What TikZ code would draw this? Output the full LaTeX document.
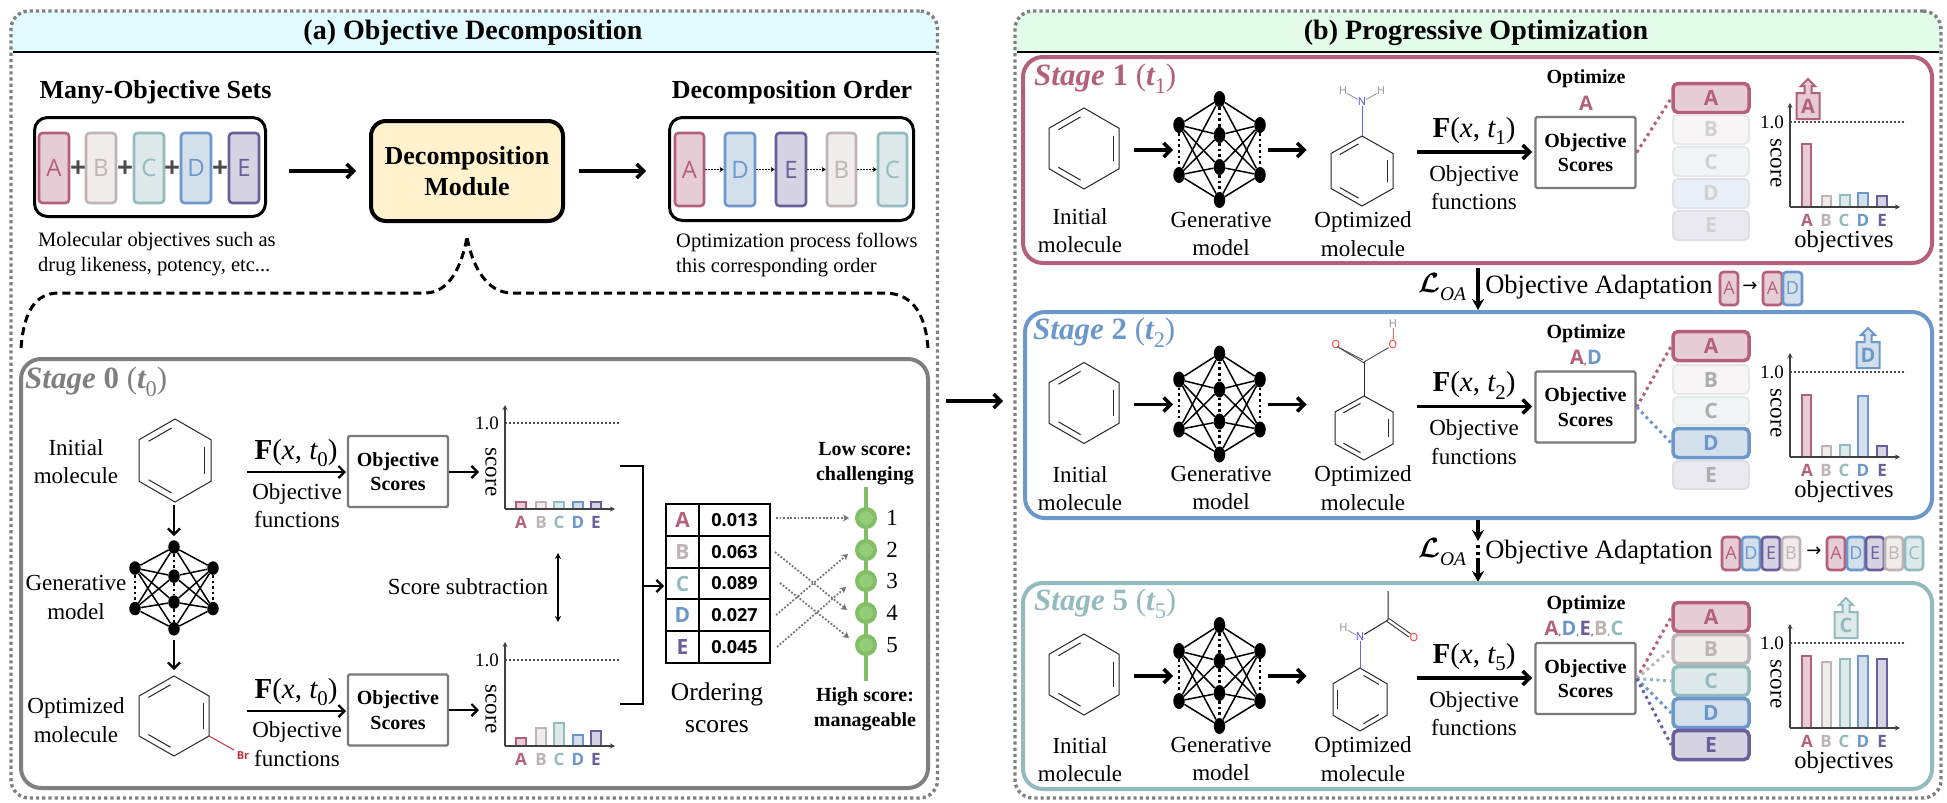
\documentclass[tikz,border=0pt]{standalone}
\usepackage{graphicx}
\usepackage{fontspec}
\setmainfont{Liberation Serif}
\newfontfamily\ltr{Open Sans}
\newfontfamily\djs{DejaVu Sans}
\usetikzlibrary{arrows.meta,calc,shapes.geometric}
\definecolor{colA}{HTML}{B5607A}\definecolor{fillA}{HTML}{E6CDD5}
\definecolor{colB}{HTML}{BFB3B5}\definecolor{fillB}{HTML}{F1ECEC}
\definecolor{colC}{HTML}{93BABD}\definecolor{fillC}{HTML}{DDE9EA}
\definecolor{colD}{HTML}{6C97CB}\definecolor{fillD}{HTML}{D4DFEC}
\definecolor{colE}{HTML}{6B5E9B}\definecolor{fillE}{HTML}{D6D3E3}
\definecolor{fadeA}{HTML}{F7F6F6}\definecolor{fadeB}{HTML}{F7F5F5}
\definecolor{fadeC}{HTML}{F1F5F5}\definecolor{fadeD}{HTML}{E9EFF7}
\definecolor{fadeE}{HTML}{E9E9EF}
\definecolor{pangray}{HTML}{808080}
\definecolor{stagegray}{HTML}{7F7F7F}
\definecolor{boxgray}{HTML}{7A7A7A}
\definecolor{gring}{HTML}{82BE68}
\definecolor{gfill}{HTML}{95CC7A}
\definecolor{brred}{HTML}{C0303A}
\definecolor{decoy}{HTML}{FFF2CC}
\definecolor{headA}{HTML}{E2FBFE}
\definecolor{headB}{HTML}{E3FCE9}
\newcommand{\fs}[2]{\fontsize{#1}{#2}\selectfont}
\newcommand{\subs}[1]{\raisebox{-.25em}{\scalebox{.72}{#1}}}
\newcommand{\loa}{\scalebox{1.12}{\boldmath$\mathcal{L}$}\raisebox{-.3em}{\scalebox{.72}{\itshape OA}}}
\tikzset{
 panel/.style={draw=pangray,line width=3.4pt,dash pattern=on 3.2pt off 3pt,rounded corners=18pt,inner sep=0,minimum width=#1},
 stagebox/.style={draw=#1,line width=4pt,rounded corners=20pt,inner sep=0},
 arr/.style={-{Straight Barb[length=6pt,width=12pt]},line width=2.2pt,black},
 harr/.style={-{Straight Barb[length=7pt,width=14pt]},line width=3.5pt,black},
 soa/.style={-{Stealth[length=11pt,width=12pt]},line width=3.5pt,black},
 soad/.style={line width=3.5pt,black,dash pattern=on 3pt off 3.5pt},
 dblarr/.style={{Stealth[length=6pt,width=6pt]}-{Stealth[length=6pt,width=6pt]},line width=2pt,black},
 axis/.style={-{Stealth[length=5pt,width=5pt]},line width=1.4pt,black!75},
 dashl/.style={line width=1.1pt,black!70,dash pattern=on 2pt off 2pt},
 dotarr/.style={-{Stealth[length=6pt,width=7pt]},line width=1.8pt,black!55,dash pattern=on 1.8pt off 1.8pt},
 tinyarr/.style={-{Stealth[length=4pt,width=5pt]},line width=1.3pt,black,dash pattern=on 1.5pt off 1.5pt},
 bond/.style={line width=1pt,black!85,line join=miter},
 nn/.style={ellipse,fill=black,inner sep=0,minimum width=11.5pt},
 nedge/.style={line width=1.5pt,black},
 ndots/.style={line width=2.6pt,black,dash pattern=on 2.6pt off 3pt},
 lab/.style={inner sep=0,align=center,font=\fs{23}{28.5}},
 lead/.style={inner sep=0,align=left,anchor=west,font=\fs{20.5}{25}},
 bld/.style={inner sep=0,align=center,font=\fs{#1}{25}\bfseries},
 fx/.style={inner sep=0,font=\fs{29}{30}},
 objbox/.style={draw=boxgray,line width=2.4pt,rounded corners=1.5pt,fill=white,inner sep=0,minimum width=100pt,minimum height=71pt,align=center,font=\fs{20}{24.5}\bfseries},
 slabel/.style={inner sep=0,anchor=west,font=\fs{31}{32}},
 atom/.style={inner sep=0,font=\fs{11}{11}\ltr},
}
% connector between two named coordinates
\newcommand{\conn}[4][arr]{\coordinate (#2-s) at (#3);\coordinate (#2-e) at (#4);\draw[#1] (#2-s) -- (#2-e);}
% coloured letter box
\newcommand{\lbox}[7]{\node[draw=col#6,fill=fill#6,line width=2.6pt,rounded corners=3.5pt,inner sep=0,minimum width={(#4-#2)*1pt},minimum height={(#5-#3)*1pt},font=\ltr\fs{#7}{#7},text=col#6] (#1) at ({(#2+#4)/2},{(#3+#5)/2}) {#6};}
% benzene ring
\newcommand{\myhex}[5]{%
 \coordinate (#1-c) at ({#2},{#3});
 \coordinate (#1-t) at ({#2},{#3-#4});
 \coordinate (#1-tr) at ({#2+#5},{#3-#4/2});
 \coordinate (#1-br) at ({#2+#5},{#3+#4/2});
 \coordinate (#1-b) at ({#2},{#3+#4});
 \coordinate (#1-bl) at ({#2-#5},{#3+#4/2});
 \coordinate (#1-tl) at ({#2-#5},{#3-#4/2});
 \draw[bond] (#1-t)--(#1-tr)--(#1-br)--(#1-b)--(#1-bl)--(#1-tl)--cycle;}
\newcommand{\mydbl}[3]{\draw[bond,shorten >=4pt,shorten <=4pt] ($(#1-c)!.83!(#1-#2)$) -- ($(#1-c)!.83!(#1-#3)$);}
\newcommand{\dblA}[1]{\mydbl{#1}{tl}{t}\mydbl{#1}{tr}{br}\mydbl{#1}{bl}{b}}
\newcommand{\dblB}[1]{\mydbl{#1}{t}{tr}\mydbl{#1}{tl}{bl}\mydbl{#1}{br}{b}}
% neural network
\newcommand{\mynet}[6]{%
 \foreach \nm/\yy in {c1/0,c2/36,c3/68,c4/101}{\node[nn,minimum height=#6pt] (#1-\nm) at ({#2},{#3+\yy*#5}) {};}
 \foreach \nm/\yy in {l1/26,l2/76}{\node[nn,minimum height=#6pt] (#1-\nm) at ({#2-#4},{#3+\yy*#5}) {};}
 \foreach \nm/\yy in {r1/26,r2/76}{\node[nn,minimum height=#6pt] (#1-\nm) at ({#2+#4},{#3+\yy*#5}) {};}
 \foreach \aa in {l1,l2,r1,r2}{\foreach \bb in {c1,c2,c3,c4}{\draw[nedge] (#1-\aa)--(#1-\bb);}}
 \draw[ndots] (#1-l1)--(#1-l2);\draw[ndots] (#1-r1)--(#1-r2);
 \draw[ndots] (#1-c1)--(#1-c2);\draw[ndots] (#1-c2)--(#1-c3);\draw[ndots] (#1-c3)--(#1-c4);}
% bars of a chart
\newcommand{\mybar}[5]{\draw[draw=col#5,fill=fill#5,line width=1.8pt] (#1,#2) rectangle (#3,#4);}
\newcommand{\letterc}[4]{\node[inner sep=0,font=\ltr\bfseries\fs{#4}{#4},text=col#3] at (#1,#2) {#3};}
% chart of panel a
\newcommand{\chartA}[7]{%
 \coordinate (#1-o) at (505,#2);\coordinate (#1-top) at (505,{#2-104});\coordinate (#1-x) at (615,#2);
 \coordinate (#1-d0) at (505,{#2-86});\coordinate (#1-d1) at (620,{#2-86});
 \draw[dashl] (#1-d0)--(#1-d1);
 \mybar{516}{#3}{526}{#2}{A}\mybar{536}{#4}{546}{#2}{B}\mybar{554}{#5}{564}{#2}{C}\mybar{573}{#6}{583}{#2}{D}\mybar{591}{#7}{601}{#2}{E}
 \draw[axis] (#1-o)--(#1-top);\draw[axis] (#1-o)--(#1-x);
 \node[inner sep=0,font=\fs{19}{19}] (#1-one) at (487,{#2-86}) {1.0};
 \node[inner sep=0,rotate=-90,font=\fs{23}{23}] (#1-score) at (491,{#2-37}) {score};
 \letterc{521}{{#2+13.5}}{A}{17}\letterc{541}{{#2+13.5}}{B}{17}\letterc{559}{{#2+13.5}}{C}{17}\letterc{578}{{#2+13.5}}{D}{17}\letterc{596}{{#2+13.5}}{E}{17}}
% chart of panel b
\newcommand{\chartB}[7]{%
 \coordinate (#1-o) at (1790,#2);\coordinate (#1-top) at (1790,{#2-104});\coordinate (#1-x) at (1900,#2);
 \coordinate (#1-d0) at (1790,{#2-85});\coordinate (#1-d1) at (1906,{#2-85});
 \draw[dashl] (#1-d0)--(#1-d1);
 \mybar{1802}{#3}{1811}{#2}{A}\mybar{1822}{#4}{1831}{#2}{B}\mybar{1840}{#5}{1850}{#2}{C}\mybar{1858}{#6}{1868}{#2}{D}\mybar{1877}{#7}{1887}{#2}{E}
 \draw[axis] (#1-o)--(#1-top);\draw[axis] (#1-o)--(#1-x);
 \node[inner sep=0,font=\fs{19}{19}] (#1-one) at (1772,{#2-85}) {1.0};
 \node[inner sep=0,rotate=-90,font=\fs{23}{23}] (#1-score) at (1776,{#2-44}) {score};
 \letterc{1807}{{#2+13.5}}{A}{17}\letterc{1826}{{#2+13.5}}{B}{17}\letterc{1844}{{#2+13.5}}{C}{17}\letterc{1863}{{#2+13.5}}{D}{17}\letterc{1882}{{#2+13.5}}{E}{17}
 \node[inner sep=0,font=\fs{24.5}{25}] (#1-objs) at (1844,{#2+34.5}) {objectives};}
% stack of objective bars
\newcommand{\stkOn}[4]{\node[draw=col#4,fill=fill#4,line width=3.5pt,rounded corners=5pt,inner sep=0,minimum width=76pt,minimum height={(#3-#2-3)*1pt},font=\ltr\bfseries\fs{21}{21},text=col#4] (#1) at (1711,{(#2+#3)/2}) {#4};}
\newcommand{\stkOff}[5]{\node[draw=fade#4!85!gray!85,fill=fade#4,line width=2pt,rounded corners=5pt,inner sep=0,minimum width=76pt,minimum height={(#3-#2-2)*1pt},font=\ltr\bfseries\fs{21}{21},text=#5] (#1) at (1711,{(#2+#3)/2}) {#4};}
% score up-arrow
\newcommand{\myup}[6]{\draw[draw=col#6,fill=fill#6,line width=2pt] (#2,#3) -- ({#2+7},{#3+7}) -- ({#2+3.5},{#3+7}) -- ({#2+3.5},#4) -- ({#2+11.5},#4) -- ({#2+11.5},#5) -- ({#2-11.5},#5) -- ({#2-11.5},#4) -- ({#2-3.5},#4) -- ({#2-3.5},{#3+7}) -- ({#2-7},{#3+7}) -- cycle;
 \node[inner sep=0,font=\ltr\bfseries\fs{20}{20},text=col#6] (#1) at (#2,{(#4+#5)/2}) {#6};}
% common part of a stage in panel b
\newcommand{\mystage}[5]{%
 \myhex{#1h}{1084}{(148.5+#2)}{40.5}{35}\dblA{#1h}
 \conn[harr]{#1a1}{1134,{150+#2}}{1173,{150+#2}}
 \mynet{#1n}{1219.5}{(99+#2)}{40.5}{1}{16}
 \conn[harr]{#1a2}{1268,{150+#2}}{1306.5,{150+#2}}
 \node[lab] (#1ini) at (1080,{#4+14.5}) {Initial\\molecule};
 \node[lab] (#1gen) at (1221,{#5+14}) {Generative\\model};
 \node[lab] (#1opt) at (1363,{#5+14}) {Optimized\\molecule};
 \node[fx] (#1fx) at (1474,{131+#2}) {{\bfseries F}({\itshape x}, {\itshape t}\subs{#3})};
 \node[objbox] (#1obj) at (1585.5,{152.5+#2}) {Objective\\Scores};
 \conn[harr]{#1a3}{1416.5,{152+#2}}{1532,{152+#2}}
 \node[lab] (#1fn) at (1474,{187.5+#2}) {Objective\\functions};
 \node[bld=20] (#1optm) at (1586,{79+#2}) {Optimize};
}
\begin{document}
\begin{tikzpicture}[x=1pt,y=-1pt]
\useasboundingbox (0,0) rectangle (1947,803);
\fill[white] (0,0) rectangle (1947,803);
% ---------- panel backgrounds
\fill[fill=headA] (11,52) [rounded corners=18pt] -- (11,11) -- (937.5,11) [sharp corners] -- (937.5,52) -- cycle;
\fill[fill=headB] (1015,52) [rounded corners=18pt] -- (1015,11) -- (1941,11) [sharp corners] -- (1941,52) -- cycle;
\node[panel=926.5pt,minimum height=787pt] (panelA) at (474.25,404.5) {};
\node[panel=926pt,minimum height=787pt] (panelB) at (1478,404.5) {};
\coordinate (ha0) at (13,52);\coordinate (ha1) at (936,52);
\coordinate (hb0) at (1017,52);\coordinate (hb1) at (1939,52);
\draw[line width=2.6pt] (ha0)--(ha1);\draw[line width=2.6pt] (hb0)--(hb1);
\node[bld=28] (titleA) at (473,33) {(a) Objective Decomposition};
\node[bld=28] (titleB) at (1476,33) {(b) Progressive Optimization};
% ---------- panel a, top row
\node[bld=26] (setsT) at (155.5,92) {Many-Objective Sets};
\node[draw,line width=3pt,rounded corners=13pt,inner sep=0,minimum width=231pt,minimum height=99pt] (sets) at (150,167) {};
\lbox{sA}{39}{133}{69}{203}{A}{24}\lbox{sB}{86}{133}{116}{203}{B}{24}\lbox{sC}{134}{133}{164}{203}{C}{24}\lbox{sD}{181}{133}{211}{203}{D}{24}\lbox{sE}{229}{133}{259}{203}{E}{24}
\foreach \px in {78,125,172,220}{\node[inner sep=0,font=\ltr\bfseries\fs{28}{28},text=black!70] at (\px,169) {+};}
\node[lead] (capL) at (38,254.5) {Molecular objectives such as\\drug likeness, potency, etc...};
\node[draw,fill=decoy,line width=4pt,rounded corners=15pt,inner sep=0,minimum width=192pt,minimum height=100pt,align=center,font=\fs{26}{31}\bfseries] (dec) at (467,171) {Decomposition\\Module};
\conn[harr]{a1}{289,171}{356,171}
\conn[harr]{a2}{579,171}{646,171}
\node[bld=26] (ordT) at (792,92) {Decomposition Order};
\node[draw,line width=3pt,rounded corners=13pt,inner sep=0,minimum width=244pt,minimum height=103pt] (ord) at (791.5,169) {};
\lbox{oA}{675}{133}{704}{206}{A}{24}\lbox{oD}{725}{133}{755}{206}{D}{24}\lbox{oE}{776}{133}{806}{206}{E}{24}\lbox{oB}{827}{133}{856}{206}{B}{24}\lbox{oC}{878}{133}{907}{206}{C}{24}
\draw[tinyarr] (oA.east)--(oD.west);\draw[tinyarr] (oD.east)--(oE.west);\draw[tinyarr] (oE.east)--(oB.west);\draw[tinyarr] (oB.east)--(oC.west);
\node[lead] (capR) at (676,254.5) {Optimization process follows\\this corresponding order};
% brace
\coordinate (brTop) at (467,237);\coordinate (brL) at (21,348);\coordinate (brR) at (928,348);
\draw[line width=3pt,dash pattern=on 8pt off 5pt] (brL) .. controls (24,310) and (36,293) .. (59,293) -- (425,293) .. controls (450,293) and (462,265) .. (brTop);
\draw[line width=3pt,dash pattern=on 8pt off 5pt] (brR) .. controls (925,310) and (910,293) .. (884,293) -- (512,293) .. controls (486,293) and (472,265) .. (brTop);
% ---------- stage 0
\node[stagebox=stagegray,minimum width=907pt,minimum height=429pt] (st0) at (474.5,573.5) {};
\node[slabel,text=stagegray] (st0L) at (25,382) {{\bfseries\itshape Stage} {\bfseries 0} ({\bfseries\itshape t}\subs{0})};
\myhex{m0}{175}{460.5}{41.5}{36}\dblA{m0}
\node[lab] (ini0) at (76,461.5) {Initial\\molecule};
\mynet{n0}{174}{547}{39}{.81}{13.5}
\node[lab] (gen0) at (76,597.5) {Generative\\model};
\myhex{m1}{174}{716}{40}{35}\dblA{m1}
\node[lab] (opt0) at (76,720) {Optimized\\molecule};
\conn{v1}{174,505}{174,536}
\conn{v2}{174,640}{174,670}
\coordinate (brs) at (234,750);
\draw[line width=1pt,brred] (m1-br)--(brs);
\node[inner sep=0,font=\ltr\bfseries\fs{11}{11},text=brred] (br) at (243,756) {Br};
\node[fx] (fx0a) at (296,453) {{\bfseries F}({\itshape x}, {\itshape t}\subs{0})};
\node[fx] (fx0b) at (296,692) {{\bfseries F}({\itshape x}, {\itshape t}\subs{0})};
\node[objbox] (ob0a) at (398,471.5) {Objective\\Scores};
\node[objbox] (ob0b) at (398,710) {Objective\\Scores};
\conn{f0a}{247,472}{346,472}
\conn{f0b}{247,711}{346,711}
\node[lab] (fn0a) at (297,505.5) {Objective\\functions};
\node[lab] (fn0b) at (297,744) {Objective\\functions};
\conn{s0a}{449,472}{479,472}
\conn{s0b}{449,710}{479,710}
\chartA{ca}{509}{502}{502}{502}{502}{502}
\chartA{cb}{746}{738}{728}{723}{735}{731}
\node[lab] (sub) at (468,587) {Score subtraction};
\conn[dblarr]{dbl}{558,553}{558,622}
\coordinate (bk1) at (620,466);\coordinate (bk2) at (643,466);\coordinate (bk3) at (643,704);\coordinate (bk4) at (620,704);
\draw[line width=2pt] (bk1)--(bk2)--(bk3)--(bk4);
% table
\foreach \k/\v/\yc in {A/0.013/520,B/0.063/552,C/0.089/583.5,D/0.027/615,E/0.045/647}{
 \node[draw,line width=2pt,inner sep=0,minimum width=33pt,minimum height=31.8pt,font=\ltr\bfseries\fs{21}{21},text=col\k] (t\k) at (682.5,\yc) {\k};
 \node[draw,line width=2pt,inner sep=0,minimum width=71pt,minimum height=31.8pt,font=\ltr\bfseries\fs{18}{18}] (v\k) at (734.5,\yc) {\v};
}
\conn{bk}{643,586}{664,586}
\node[inner sep=0,align=center,font=\fs{25.5}{32}] (ordS) at (717,708) {Ordering\\scores};
% green chain
\coordinate (g0) at (866,487);\coordinate (g6) at (866,681);
\draw[line width=4pt,gring] (g0)--(g6);
\foreach \i/\yc in {1/518,2/550,3/581,4/613,5/645}{
 \node[circle,draw=gring,fill=gfill,line width=4pt,inner sep=0,minimum size=18pt] (g\i) at (866,\yc) {};
 \node[inner sep=0,font=\fs{23}{23}] (gt\i) at (892,\yc) {\i};
}
\node[bld=20] (lowS) at (865,463.5) {Low score:\\challenging};
\node[bld=20] (highS) at (865,709.5) {High score:\\manageable};
\conn[dotarr]{dA}{776,518}{849,518}
\conn[dotarr]{dB}{775,552}{847,610}
\conn[dotarr]{dC}{780,583}{849,638}
\conn[dotarr]{dD}{776,615}{848,554}
\conn[dotarr]{dE}{777,647}{846,587}
\conn[harr]{ab}{946,401}{1003,401}
% ---------- panel b, stage 1
\node[stagebox=colA,minimum width=909pt,minimum height=206pt] (st1) at (1477.5,160) {};
\node[slabel,text=colA] (st1L) at (1034,79) {{\bfseries\itshape Stage} {\bfseries 1} ({\bfseries\itshape t}\subs{1})};
\mystage{a}{0}{1}{216}{220}
\node[inner sep=0,font=\ltr\bfseries\fs{20}{20},text=colA] (aL) at (1586,103) {A};
\stkOn{aA}{82}{114}{A}\stkOff{aB}{114}{145}{B}{black!18}\stkOff{aC}{146}{177}{C}{black!18}\stkOff{aD}{178}{209}{D}{black!18}\stkOff{aE}{210}{241}{E}{black!18}
\chartB{ac}{207}{144}{196}{195}{193}{196}
\myup{aU}{1808}{79}{93}{119}{A}
\draw[colA,line width=3pt,dash pattern=on 3pt off 3.6pt] (aobj.east) -- (aA.west);
% aniline
\myhex{am}{1362}{171}{35}{31}\dblA{am}
\node[atom,text=blue!70] (amN) at (1362,102) {N};
\node[atom,text=black!45] (amH1) at (1343,91) {H};
\node[atom,text=black!45] (amH2) at (1381,91) {H};
\draw[line width=1pt,blue!60] (am-t)--(amN);
\draw[line width=.8pt,black!45] (amN)--(amH1);\draw[line width=.8pt,black!45] (amN)--(amH2);
% adaptation 1
\conn[soa]{oa1}{1478,268}{1478,310}
\node[inner sep=0,font=\fs{27}{27}] (oa1L) at (1442,287) {\loa};
\node[inner sep=0,font=\fs{26.5}{27}] (oa1T) at (1599,287) {Objective Adaptation};
\lbox{p1A}{1720}{272}{1738}{305}{A}{18}
\node[inner sep=0,font=\djs\fs{18}{18}] (p1ar) at (1750,287) {→};
\lbox{p2A}{1763}{272}{1782}{305}{A}{18}\lbox{p2D}{1783}{272}{1802}{305}{D}{18}
% ---------- stage 2
\node[stagebox=colD,minimum width=907pt,minimum height=206pt] (st2) at (1478.5,415) {};
\node[slabel,text=colD] (st2L) at (1033,333) {{\bfseries\itshape Stage} {\bfseries 2} ({\bfseries\itshape t}\subs{2})};
\mystage{b}{254.5}{2}{474}{474}
\node[inner sep=0,font=\ltr\bfseries\fs{20}{20}] (bL) at (1586,358) {\textcolor{colA}{A}{\color{colA}\fs{11}{11},}\textcolor{colD}{D}};
\stkOn{bA}{330}{362}{A}\stkOff{bB}{364}{395}{B}{black!32}\stkOff{bC}{396}{426}{C}{black!32}\stkOn{bD}{427}{459}{D}\stkOff{bE}{460}{490}{E}{black!32}
\chartB{bc}{457}{395}{446}{445}{396}{446}
\myup{bU}{1868}{328}{342}{368}{D}
\draw[colA,line width=3pt,dash pattern=on 3pt off 3.6pt] (bobj.east) -- (bA.west);
\draw[colD,line width=3pt,dash pattern=on 3pt off 3.6pt] (bobj.east) -- (bD.west);
% benzoic acid
\myhex{bm}{1364}{428}{32}{29}\dblA{bm}
\coordinate (bmC) at (1364,362);
\draw[bond] (bm-t)--(bmC);
\node[atom,text=red!85] (bmO1) at (1336,345) {O};
\node[atom,text=red!85] (bmO2) at (1393,345) {O};
\node[atom,text=black!45] (bmH) at (1393,324) {H};
\draw[line width=.9pt,black!70] (bmC)--(bmO2);
\draw[line width=.9pt,black!70] ($(bmC)+(-1,-2)$)--($(bmO1)+(1,1.5)$);
\draw[line width=.9pt,black!70] ($(bmC)+(1,1.5)$)--($(bmO1)+(3.5,3)$);
\draw[line width=.8pt,red!60] (bmO2)--(bmH);
% adaptation 2
\conn[soa]{oa2a}{1478,520}{1478,541}
\conn[soad]{oa2b}{1478,545}{1478,561}
\conn[soa]{oa2c}{1478,561}{1478,582}
\node[inner sep=0,font=\fs{27}{27}] (oa2L) at (1442,552) {\loa};
\node[inner sep=0,font=\fs{26.5}{27}] (oa2T) at (1599,552) {Objective Adaptation};
\lbox{q1A}{1722}{537}{1740}{570}{A}{18}\lbox{q1D}{1742}{537}{1760}{570}{D}{18}\lbox{q1E}{1762}{537}{1780}{570}{E}{18}\lbox{q1B}{1782}{537}{1800}{570}{B}{18}
\node[inner sep=0,font=\djs\fs{18}{18}] (q1ar) at (1814,552) {→};
\lbox{q2A}{1827}{537}{1845}{570}{A}{18}\lbox{q2D}{1847}{537}{1865}{570}{D}{18}\lbox{q2E}{1866}{537}{1884}{570}{E}{18}\lbox{q2B}{1885}{537}{1903}{570}{B}{18}\lbox{q2C}{1905}{537}{1923}{570}{C}{18}
% ---------- stage 5
\node[stagebox=colC,minimum width=909pt,minimum height=206pt] (st5) at (1477.5,686) {};
\node[slabel,text=colC] (st5L) at (1034,604) {{\bfseries\itshape Stage} {\bfseries 5} ({\bfseries\itshape t}\subs{5})};
\mystage{c}{526}{5}{745}{745}
\node[inner sep=0,font=\ltr\bfseries\fs{20}{20}] (cL) at (1584,629) {\textcolor{colA}{A}{\color{colA}\fs{11}{11},}\textcolor{colD}{D}{\color{colD}\fs{11}{11},}\textcolor{colE}{E}{\color{colE}\fs{11}{11},}\textcolor{colB}{B}{\color{colB}\fs{11}{11},}\textcolor{colC}{C}};
\stkOn{cA}{601}{633}{A}\stkOn{cB}{633}{665}{B}\stkOn{cC}{665}{697}{C}\stkOn{cD}{697}{729}{D}\stkOn{cE}{729}{761}{E}
\chartB{cc}{728}{656}{662}{659}{656}{659}
\myup{cU}{1846}{598}{612}{638}{C}
\foreach \k/\c in {A/colA,B/colB,C/colC,D/colD,E/colE}{\draw[\c,line width=3pt,dash pattern=on 3pt off 3.6pt] (cobj.east) -- (c\k.west);}
% acetanilide
\myhex{cm}{1360}{699.5}{31.5}{27}\dblB{cm}
\node[atom,text=blue!70] (cmN) at (1360,637) {N};
\node[atom,text=black!45] (cmH) at (1343.5,628) {H};
\coordinate (cmC) at (1388,620);\coordinate (cmMe) at (1388,591);
\node[atom,text=red!85] (cmO) at (1414,638) {O};
\draw[line width=1pt,blue!60] (cm-t)--(cmN);
\draw[line width=.8pt,black!45] (cmN)--(cmH);
\draw[bond] (cmN)--(cmC)--(cmMe);
\draw[line width=.9pt,black!80] ($(cmC)+(1,-1.5)$)--($(cmO)+(-3,-4)$);
\draw[line width=.9pt,black!80] ($(cmC)+(-1,1.5)$)--($(cmO)+(-5,-1)$);
\end{tikzpicture}
\end{document}
